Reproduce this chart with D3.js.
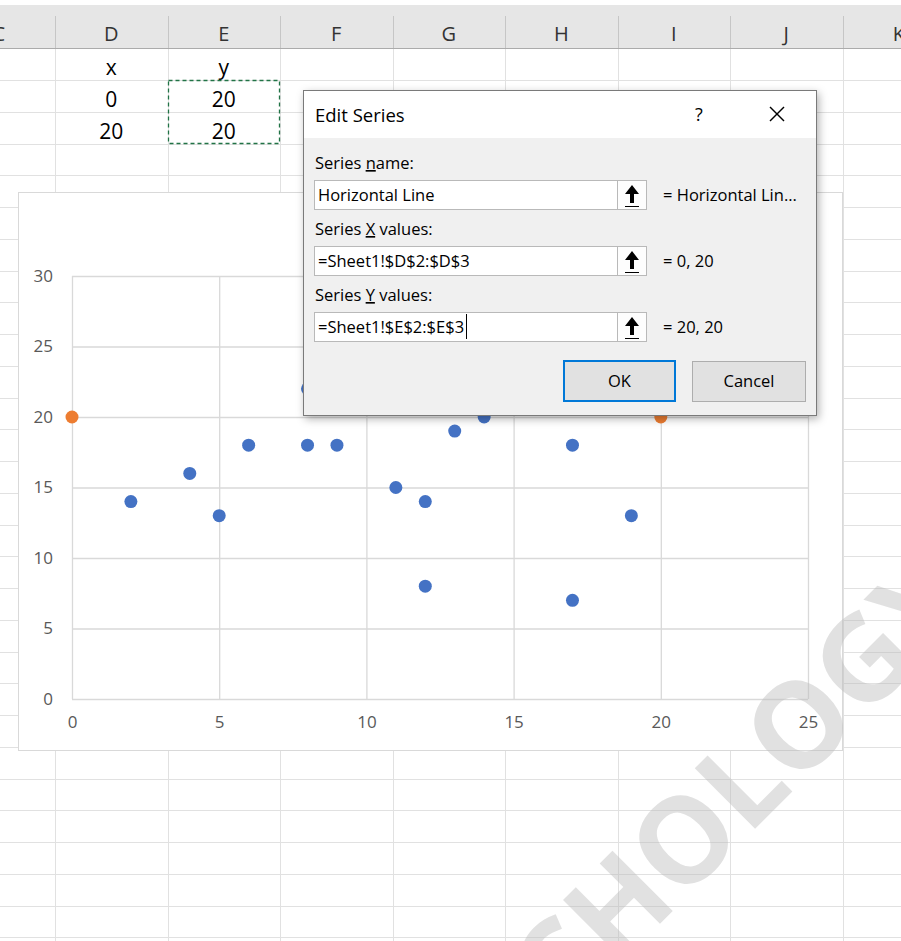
<!DOCTYPE html>
<html>
<head>
<meta charset="utf-8">
<script src="https://cdn.jsdelivr.net/npm/d3@7"></script>
<style>
  body { margin: 0; background: #fff; }
  svg text { font-family: "Open Sans", "Noto Sans", sans-serif; }
</style>
</head>
<body>
<div id="chart"></div>
<script>
// sheet data
const columns = ["C", "D", "E", "F", "G", "H", "I", "J", "K"];
const tableX = ["x", "0", "20"];
const tableY = ["y", "20", "20"];

// scatter series
const pointsX = [2, 4, 5, 6, 8, 8, 9, 11, 12, 12, 13, 14, 17, 17, 19];
const pointsY = [14, 16, 13, 18, 22, 18, 18, 15, 14, 8, 19, 20, 18, 7, 13];
const lineX = [0, 20];
const lineY = [20, 20];

const xTicks = [0, 5, 10, 15, 20, 25];
const yTicks = [0, 5, 10, 15, 20, 25, 30];

// dialog text
const seriesName = "Horizontal Line";
const seriesXRef = "=Sheet1!$D$2:$D$3";
const seriesYRef = "=Sheet1!$E$2:$E$3";
const seriesXVals = "= 0, 20";
const seriesYVals = "= 20, 20";

const width = 901, height = 941;
const colW = 112.5, colStart = 55, rowH = 31.75, rowStart = 80;

const svg = d3.select("#chart").append("svg")
  .attr("width", width).attr("height", height);

// ---- spreadsheet background ----
svg.append("rect").attr("x", 0).attr("y", 5).attr("width", width).attr("height", 43).attr("fill", "#e6e6e6");
svg.append("line").attr("x1", 0).attr("x2", width).attr("y1", 48.5).attr("y2", 48.5).attr("stroke", "#ababab");

const grid = svg.append("g");
d3.range(0, 28).forEach(k => {
  const y = Math.round(rowStart + k * rowH) + 0.5;
  grid.append("line").attr("x1", 0).attr("x2", width).attr("y1", y).attr("y2", y).attr("stroke", "#e1e1e1");
});
d3.range(0, 8).forEach(k => {
  const x = Math.round(colStart + k * colW) + 0.5;
  grid.append("line").attr("x1", x).attr("x2", x).attr("y1", 49).attr("y2", height).attr("stroke", "#e1e1e1");
  svg.append("line").attr("x1", x).attr("x2", x).attr("y1", 16).attr("y2", 48).attr("stroke", "#c6c6c6");
});

svg.selectAll(".colhead").data(columns).enter().append("text")
  .attr("x", (d, i) => colStart + (i - 0.5) * colW)
  .attr("y", 41)
  .attr("text-anchor", "middle")
  .attr("font-size", 20)
  .attr("fill", "#333")
  .text(d => d);

// table cells
[tableX, tableY].forEach((col, ci) => {
  col.forEach((v, ri) => {
    svg.append("text")
      .attr("x", colStart + (ci + 0.5) * colW)
      .attr("y", 75 + ri * rowH)
      .attr("text-anchor", "middle")
      .attr("font-size", 21)
      .attr("fill", "#000")
      .text(v);
  });
});

// copy marquee round E2:E3
svg.append("rect")
  .attr("x", 168.5).attr("y", 80.5).attr("width", 111).attr("height", 63)
  .attr("fill", "none").attr("stroke", "#217346").attr("stroke-width", 1.3)
  .attr("stroke-dasharray", "4,3");

// ---- chart ----
svg.append("rect")
  .attr("x", 18.5).attr("y", 192.5).attr("width", 824).attr("height", 558)
  .attr("fill", "#fff").attr("stroke", "#d9d9d9");

const x = d3.scaleLinear().domain([0, 25]).range([72, 808]);
const y = d3.scaleLinear().domain([0, 30]).range([699, 276]);

const xAxis = svg.append("g")
  .attr("transform", `translate(0,${y(0)})`)
  .call(d3.axisBottom(x).tickValues(xTicks).tickSize(-(y(0) - y(30))).tickPadding(19));
const yAxis = svg.append("g")
  .attr("transform", `translate(${x(0)},0)`)
  .call(d3.axisLeft(y).tickValues(yTicks).tickSize(-(x(25) - x(0))).tickPadding(19));

[xAxis, yAxis].forEach(a => {
  a.select(".domain").remove();
  a.selectAll(".tick line").attr("stroke", "#d9d9d9").attr("stroke-width", 1.3);
  a.selectAll(".tick text").attr("fill", "#595959").attr("font-size", 17)
    .attr("font-family", "'Open Sans', sans-serif");
});
xAxis.selectAll(".tick text").attr("dy", "0.6em");

svg.append("g").selectAll("circle")
  .data(pointsX.map((v, i) => [v, pointsY[i]]))
  .enter().append("circle")
  .attr("cx", d => x(d[0])).attr("cy", d => y(d[1])).attr("r", 6.5)
  .attr("fill", "#4472c4");

svg.append("g").selectAll("circle")
  .data(lineX.map((v, i) => [v, lineY[i]]))
  .enter().append("circle")
  .attr("cx", d => x(d[0])).attr("cy", d => y(d[1])).attr("r", 6.5)
  .attr("fill", "#ed7d31");

// ---- Edit Series dialog ----
const defs = svg.append("defs");
const f = defs.append("filter").attr("id", "shadow").attr("x", "-10%").attr("y", "-10%").attr("width", "120%").attr("height", "125%");
f.append("feDropShadow").attr("dx", 2).attr("dy", 3).attr("stdDeviation", 4).attr("flood-color", "#000").attr("flood-opacity", 0.3);

const dlg = svg.append("g");
dlg.append("rect")
  .attr("x", 303.5).attr("y", 90.5).attr("width", 513).attr("height", 325)
  .attr("fill", "#f0f0f0").attr("stroke", "#7a7a7a").attr("filter", "url(#shadow)");
dlg.append("rect").attr("x", 304).attr("y", 91).attr("width", 512).attr("height", 47).attr("fill", "#fff");

dlg.append("text").attr("x", 315).attr("y", 122).attr("font-size", 18.5).attr("fill", "#000").text("Edit Series");
dlg.append("text").attr("x", 699).attr("y", 121).attr("font-size", 18).attr("text-anchor", "middle").attr("fill", "#000").text("?");
dlg.append("line").attr("x1", 770).attr("y1", 107).attr("x2", 784).attr("y2", 121).attr("stroke", "#000").attr("stroke-width", 1.4);
dlg.append("line").attr("x1", 784).attr("y1", 107).attr("x2", 770).attr("y2", 121).attr("stroke", "#000").attr("stroke-width", 1.4);

const fields = [
  { label: ["Series ", "n", "ame:"], value: seriesName, result: "= Horizontal Lin...", top: 180 },
  { label: ["Series ", "X", " values:"], value: seriesXRef, result: seriesXVals, top: 246 },
  { label: ["Series ", "Y", " values:"], value: seriesYRef, result: seriesYVals, top: 312 }
];

let lastValue;
fields.forEach((fd, i) => {
  const lab = dlg.append("text").attr("x", 315).attr("y", fd.top - 11).attr("font-size", 16.5).attr("fill", "#000");
  lab.append("tspan").text(fd.label[0]);
  lab.append("tspan").attr("text-decoration", "underline").text(fd.label[1]);
  lab.append("tspan").text(fd.label[2]);

  dlg.append("rect").attr("x", 314.5).attr("y", fd.top + 0.5).attr("width", 303).attr("height", 29)
    .attr("fill", "#fff").attr("stroke", "#b9b9b9");
  dlg.append("rect").attr("x", 617.5).attr("y", fd.top + 0.5).attr("width", 29).attr("height", 29)
    .attr("fill", "#fdfdfd").attr("stroke", "#b9b9b9");
  // collapse button arrow
  const cx = 632, ay = fd.top + 5;
  dlg.append("path")
    .attr("d", `M${cx},${ay} L${cx - 7},${ay + 9} L${cx - 2},${ay + 9} L${cx - 2},${ay + 18} L${cx + 2},${ay + 18} L${cx + 2},${ay + 9} L${cx + 7},${ay + 9} Z`)
    .attr("fill", "#000");
  dlg.append("line").attr("x1", cx - 7).attr("x2", cx + 7).attr("y1", ay + 21.5).attr("y2", ay + 21.5).attr("stroke", "#000");

  lastValue = dlg.append("text").attr("x", 318).attr("y", fd.top + 21).attr("font-size", 16.5).attr("fill", "#000").text(fd.value);
  dlg.append("text").attr("x", 663).attr("y", fd.top + 21).attr("font-size", 16.5).attr("fill", "#000").text(fd.result);
});
// text cursor right after the Y reference
const cursorX = Math.round(318 + lastValue.node().getComputedTextLength() + 2) + 0.5;
dlg.append("line").attr("x1", cursorX).attr("x2", cursorX).attr("y1", 314).attr("y2", 339).attr("stroke", "#000");

// buttons
dlg.append("rect").attr("x", 564).attr("y", 361).attr("width", 111).attr("height", 40)
  .attr("fill", "#e1e1e1").attr("stroke", "#0078d7").attr("stroke-width", 2);
dlg.append("text").attr("x", 619.5).attr("y", 387).attr("text-anchor", "middle").attr("font-size", 16.5).attr("fill", "#000").text("OK");
dlg.append("rect").attr("x", 692.5).attr("y", 361.5).attr("width", 113).attr("height", 40)
  .attr("fill", "#e1e1e1").attr("stroke", "#adadad");
dlg.append("text").attr("x", 749).attr("y", 387).attr("text-anchor", "middle").attr("font-size", 16.5).attr("fill", "#000").text("Cancel");

// ---- watermark ----
// size and place it so the two O's land where they sit in the screenshot
const wm = svg.append("text")
  .attr("font-size", 115).attr("font-weight", "bold")
  .attr("font-family", "'Open Sans', sans-serif")
  .attr("fill", "#bdbdbd").attr("opacity", 0.45)
  .text("CHOLOGY");
const centre = i => { const b = wm.node().getExtentOfChar(i); return [b.x + b.width / 2, b.y + b.height / 2]; };
let o1 = centre(2), o2 = centre(4);
const fs = 115 * 162.6 / Math.hypot(o2[0] - o1[0], o2[1] - o1[1]);
wm.attr("font-size", fs);
o2 = centre(4);
// rotate(-45) of local point, then shift onto (796, 722)
const c = Math.SQRT1_2;
const rx = o2[0] * c + o2[1] * c, ry = -o2[0] * c + o2[1] * c;
wm.attr("transform", `translate(${796 - rx},${722 - ry}) rotate(-45)`);
</script>
</body>
</html>
